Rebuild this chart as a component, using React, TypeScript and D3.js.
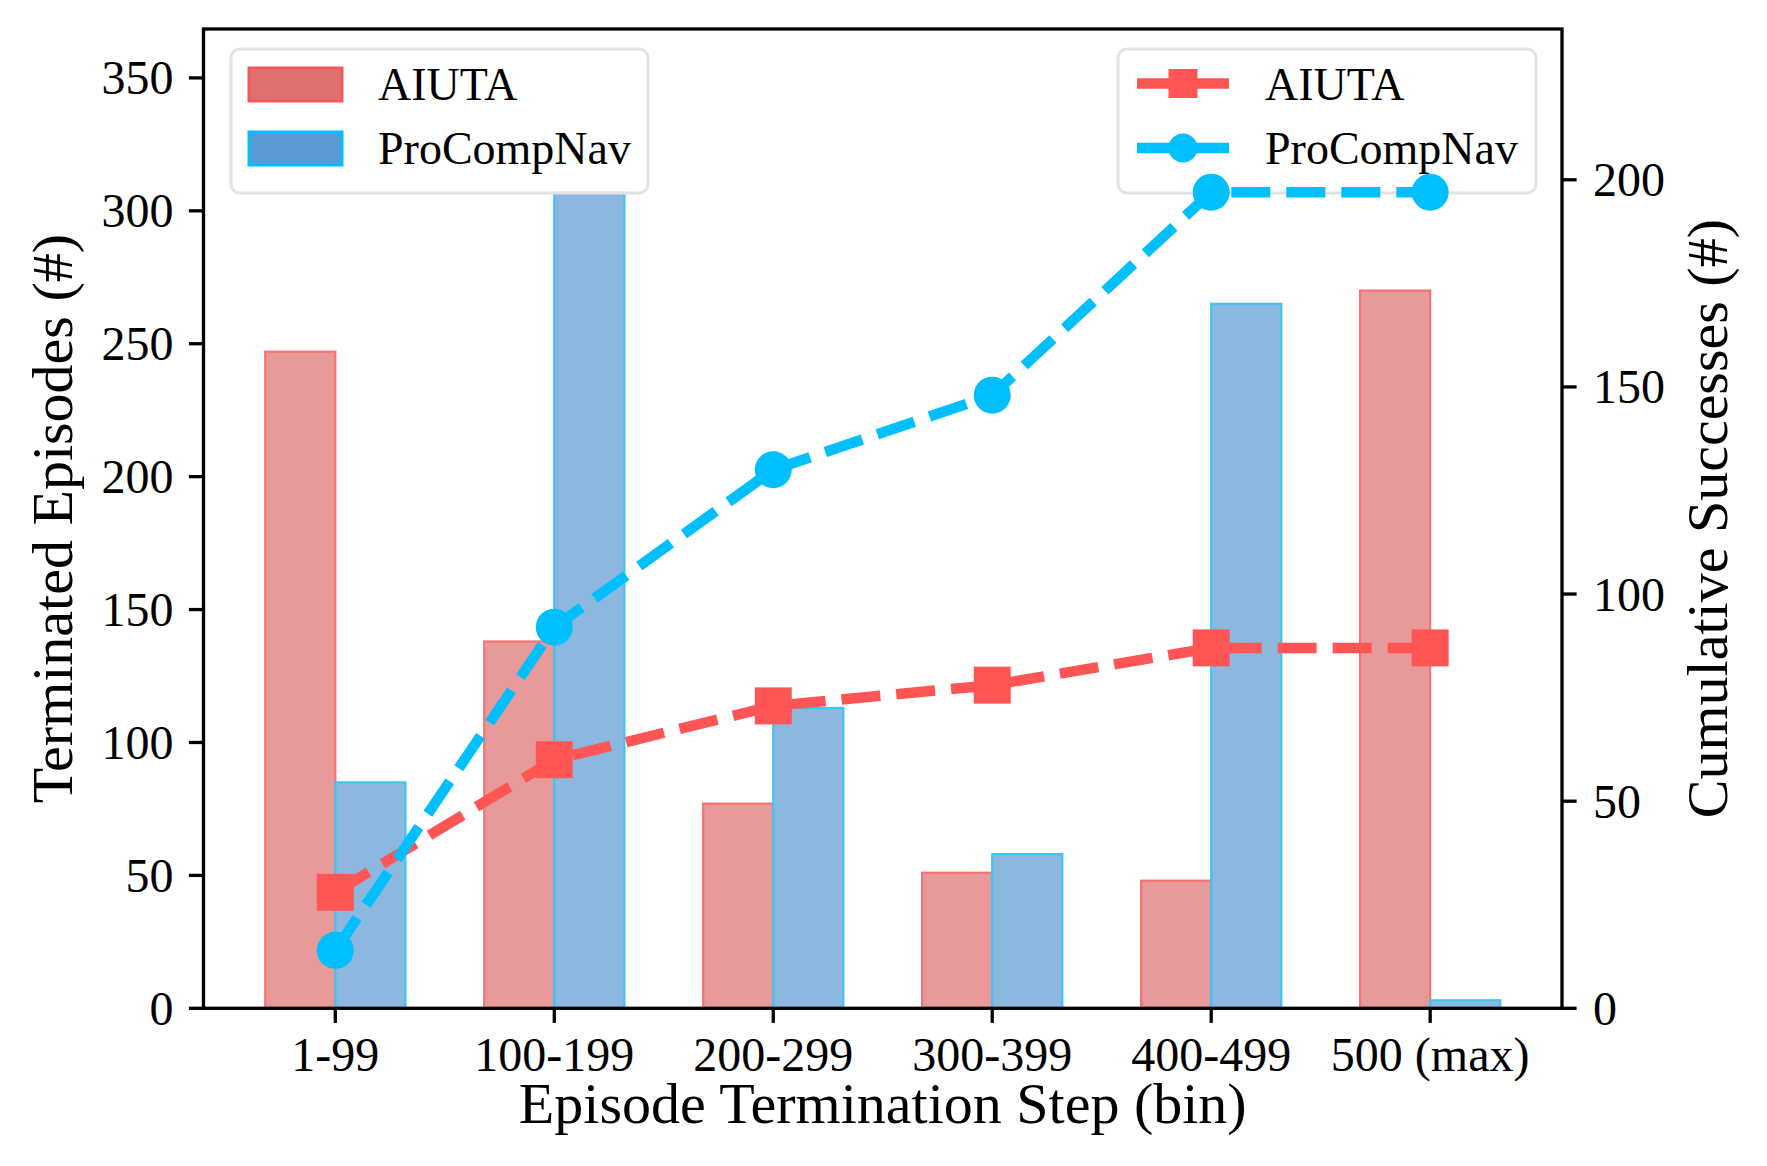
import * as d3 from 'd3';

const BINS = ['1-99', '100-199', '200-299', '300-399', '400-499', '500 (max)'];

// Terminated episodes per bin (left axis, bars)
const AIUTA_EPISODES = [247, 138, 77, 51, 48, 270];
const PROCOMPNAV_EPISODES = [85, 307, 113, 58, 265, 3];

// Cumulative successes (right axis, lines)
const AIUTA_CUMULATIVE = [28, 60, 73, 78, 87, 87];
const PROCOMPNAV_CUMULATIVE = [14, 92, 130, 148, 197, 197];

const LEFT_TICKS = [0, 50, 100, 150, 200, 250, 300, 350];
const RIGHT_TICKS = [0, 50, 100, 150, 200];

const W = 1767;
const H = 1166;
const FONT = '"Liberation Serif", "Times New Roman", Times, serif';

const RED_LINE = '#ff5555';
const BLUE_LINE = '#00bfff';

export default function App() {
  const plot = { left: 203.5, right: 1562, top: 29, bottom: 1008.3 };
  const barW = 0.32;

  const x = d3.scaleLinear().domain([-0.602, BINS.length - 1 + 0.602]).range([plot.left, plot.right]);
  const yL = d3.scaleLinear().domain([0, d3.max([...AIUTA_EPISODES, ...PROCOMPNAV_EPISODES])! * 1.2]).range([plot.bottom, plot.top]);
  const yR = d3.scaleLinear().domain([0, d3.max([...AIUTA_CUMULATIVE, ...PROCOMPNAV_CUMULATIVE])! * 1.2]).range([plot.bottom, plot.top]);

  const line = d3.line<number>().x((_, i) => x(i)).y(d => yR(d));

  const bars = [
    { values: AIUTA_EPISODES, offset: -barW / 2, fill: '#e89a9a', stroke: '#f27474' },
    { values: PROCOMPNAV_EPISODES, offset: barW / 2, fill: '#8cb8e0', stroke: '#3ec3f5' },
  ];

  const lineW = 10.5;
  const dash = '39 16';

  return (
    <div style={{ position: 'absolute', left: 0, top: 0 }}>
      <svg width={W} height={H} style={{ display: 'block', background: '#fff' }} fontFamily={FONT}>
        {/* Bars */}
        {bars.map((b, bi) =>
          b.values.map((v, i) => {
            const x0 = x(i + b.offset - barW / 2);
            const x1 = x(i + b.offset + barW / 2);
            return (
              <rect
                key={`bar-${bi}-${i}`}
                x={x0} y={yL(v)}
                width={x1 - x0} height={yL(0) - yL(v)}
                fill={b.fill} stroke={b.stroke} strokeWidth={2.2}
              />
            );
          })
        )}

        {/* Spines */}
        <rect
          x={plot.left} y={plot.top}
          width={plot.right - plot.left} height={plot.bottom - plot.top}
          fill="none" stroke="#000" strokeWidth={3.3}
        />

        {/* Left ticks */}
        {LEFT_TICKS.map(t => (
          <g key={`lt-${t}`}>
            <line x1={plot.left - 14.6} x2={plot.left} y1={yL(t)} y2={yL(t)} stroke="#000" strokeWidth={3.3} />
            <text x={plot.left - 30} y={yL(t)} textAnchor="end" dominantBaseline="central" fontSize={48}>
              {t}
            </text>
          </g>
        ))}

        {/* Right ticks */}
        {RIGHT_TICKS.map(t => (
          <g key={`rt-${t}`}>
            <line x1={plot.right} x2={plot.right + 14.6} y1={yR(t)} y2={yR(t)} stroke="#000" strokeWidth={3.3} />
            <text x={plot.right + 31} y={yR(t)} textAnchor="start" dominantBaseline="central" fontSize={48}>
              {t}
            </text>
          </g>
        ))}

        {/* Bottom ticks */}
        {BINS.map((b, i) => (
          <g key={`bt-${b}`}>
            <line x1={x(i)} x2={x(i)} y1={plot.bottom} y2={plot.bottom + 14.6} stroke="#000" strokeWidth={3.3} />
            <text x={x(i)} y={1071} textAnchor="middle" fontSize={48}>
              {b}
            </text>
          </g>
        ))}

        {/* Axis labels */}
        <text x={(plot.left + plot.right) / 2} y={1122.5} textAnchor="middle" fontSize={58}>
          Episode Termination Step (bin)
        </text>
        <text
          transform={`translate(72, ${(plot.top + plot.bottom) / 2}) rotate(-90)`}
          textAnchor="middle" fontSize={58}
        >
          Terminated Episodes (#)
        </text>
        <text
          transform={`translate(1727, ${(plot.top + plot.bottom) / 2}) rotate(-90)`}
          textAnchor="middle" fontSize={58}
        >
          Cumulative Successes (#)
        </text>

        {/* Left legend (bars) */}
        <rect x={231} y={49} width={417} height={144} rx={9} fill="#fff" fillOpacity={0.8} stroke="#e3e3e3" strokeWidth={3} />
        <rect x={249} y={68} width={93} height={33} fill="#e07070" stroke="#f25a5a" strokeWidth={3} />
        <text x={378} y={100} fontSize={46}>AIUTA</text>
        <rect x={249} y={132} width={93} height={33} fill="#5b9bd5" stroke="#00bfff" strokeWidth={3} />
        <text x={378} y={164} fontSize={46}>ProCompNav</text>

        {/* Right legend (lines) */}
        <rect x={1118} y={49} width={418} height={144} rx={9} fill="#fff" fillOpacity={0.8} stroke="#e3e3e3" strokeWidth={3} />
        <line x1={1137} x2={1229} y1={83.5} y2={83.5} stroke={RED_LINE} strokeWidth={lineW} />
        <rect x={1168.5} y={69} width={29} height={29} fill={RED_LINE} />
        <text x={1265} y={100} fontSize={46}>AIUTA</text>
        <line x1={1137} x2={1229} y1={148} y2={148} stroke={BLUE_LINE} strokeWidth={lineW} />
        <circle cx={1183} cy={148} r={14.5} fill={BLUE_LINE} />
        <text x={1265} y={164} fontSize={46}>ProCompNav</text>

        {/* Lines */}
        <path d={line(AIUTA_CUMULATIVE) ?? ''} fill="none" stroke={RED_LINE} strokeWidth={lineW} strokeDasharray={dash} />
        {AIUTA_CUMULATIVE.map((v, i) => (
          <rect key={`sq-${i}`} x={x(i) - 18.5} y={yR(v) - 18.5} width={37} height={37} fill={RED_LINE} />
        ))}
        <path d={line(PROCOMPNAV_CUMULATIVE) ?? ''} fill="none" stroke={BLUE_LINE} strokeWidth={lineW} strokeDasharray={dash} />
        {PROCOMPNAV_CUMULATIVE.map((v, i) => (
          <circle key={`ci-${i}`} cx={x(i)} cy={yR(v)} r={18.5} fill={BLUE_LINE} />
        ))}
      </svg>
    </div>
  );
}
